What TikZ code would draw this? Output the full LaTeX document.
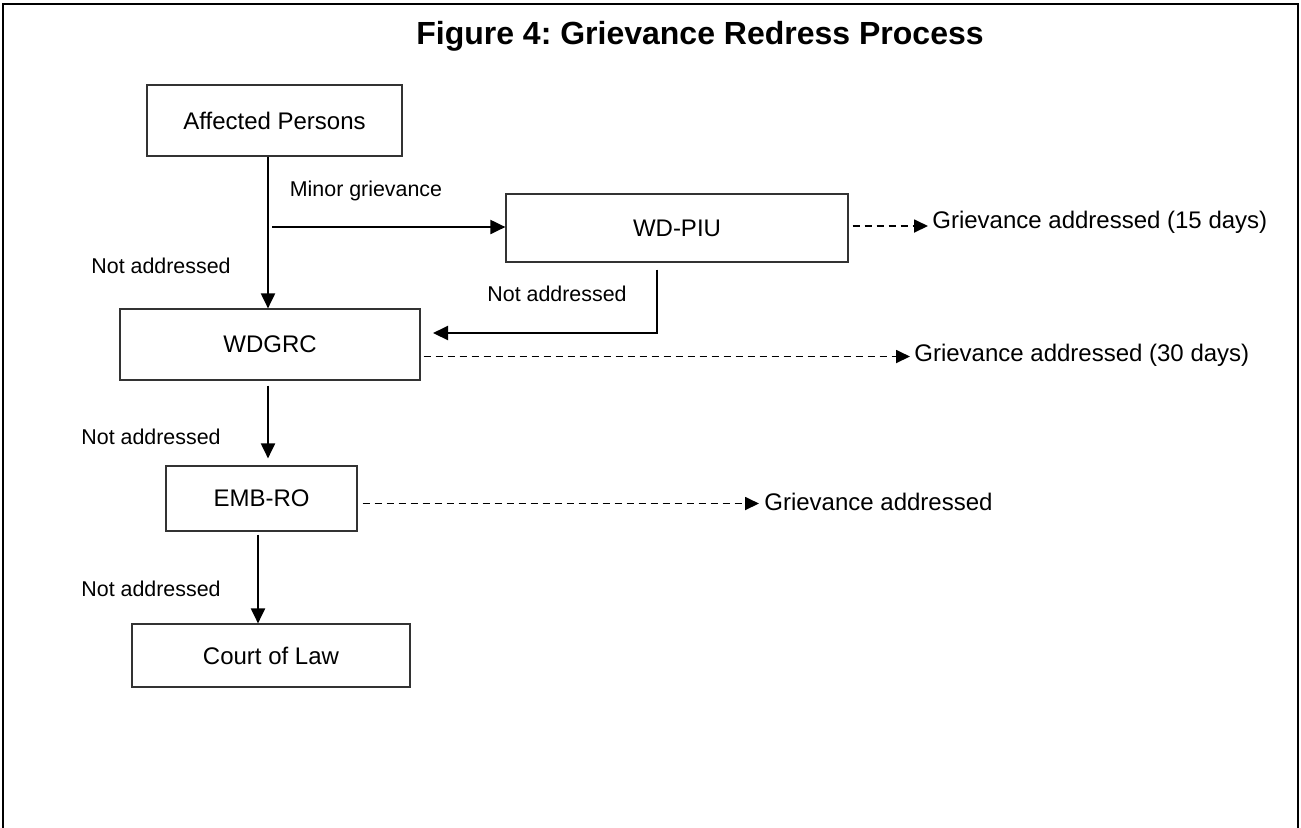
\documentclass[tikz,border=0pt]{standalone}
\usepackage{fontspec}
\setmainfont{Liberation Sans}
\usetikzlibrary{arrows.meta,calc}
\frenchspacing
\begin{document}
\begin{tikzpicture}[x=0.5pt,y=-0.5pt,
  box/.style={draw=black!80,line width=0.6pt,inner sep=0pt,font=\fontsize{12}{14}\selectfont},
  lbl/.style={inner sep=0pt,font=\fontsize{10.7}{13}\selectfont},
  res/.style={inner sep=0pt,anchor=west,font=\fontsize{12}{14}\selectfont},
  arr/.style={line width=1pt,-{Triangle[length=7.5pt,width=7pt]}},
  darr/.style={line width=0.9pt,dash pattern=on 3.5pt off 2.5pt,-{Triangle[length=7pt,width=6.5pt]}}]
\useasboundingbox (0,0) rectangle (1301,827);
\draw[line width=1pt] (3,830) -- (3,4) -- (1298,4) -- (1298,830);
\node[inner sep=0pt,font=\bfseries\fontsize{16}{19}\selectfont] (title) at (700,36) {Figure 4: Grievance Redress Process};
\node[box,minimum width=127.5pt,minimum height=35.5pt] (ap) at (274.5,120.5) {Affected Persons};
\node[box,minimum width=150pt,minimum height=35.5pt] (wdgrc) at (270,344.5) {WDGRC};
\node[box,minimum width=171pt,minimum height=34pt] (piu) at (677,228) {WD-PIU};
\node[box,minimum width=95.5pt,minimum height=32.5pt] (emb) at (261.5,498.5) {EMB-RO};
\node[box,minimum width=139pt,minimum height=31.5pt] (court) at (271,655.5) {Court of Law};
\node[res] (g15) at (932,222) {Grievance addressed (15 days)};
\node[res] (g30) at (914,355) {Grievance addressed (30 days)};
\node[res] (ga) at (764,502) {Grievance addressed};
\node[lbl] (lmg) at (366,191) {Minor grievance};
\node[lbl] (l1) at (161,266) {Not addressed};
\node[lbl] (l2) at (557,294) {Not addressed};
\node[lbl] (l3) at (151,437) {Not addressed};
\node[lbl] (l4) at (151,589) {Not addressed};
\coordinate (mg) at (272,227);
\coordinate (pb) at (433,333);
\draw[arr] ([xshift=-3.25pt]ap.south) -- ([xshift=-3.25pt]ap.south |- wdgrc.north);
\draw[arr] (mg) -- (mg -| piu.west);
\draw[arr] ([xshift=-10pt,yshift=-3.5pt]piu.south) |- (pb);
\draw[darr,shorten >=2pt] ([xshift=2pt,yshift=1pt]piu.east) -- ($(piu.east -| g15.west)+(0,-2)$);
\draw[darr,shorten >=2pt] ([xshift=1.5pt,yshift=-6pt]wdgrc.east) -- ($(wdgrc.east -| g30.west)+(0,12)$);
\draw[darr,shorten >=2.5pt] ([xshift=2.5pt,yshift=-2.5pt]emb.east) -- ($(emb.east -| ga.west)+(0,5)$);
\draw[arr] ([xshift=-1pt,yshift=-2.5pt]wdgrc.south) -- ([xshift=-1pt,yshift=3.5pt]wdgrc.south |- emb.north);
\draw[arr] ([xshift=-1.75pt,yshift=-1.5pt]emb.south) -- ([xshift=-1.75pt]emb.south |- court.north);
\end{tikzpicture}
\end{document}
